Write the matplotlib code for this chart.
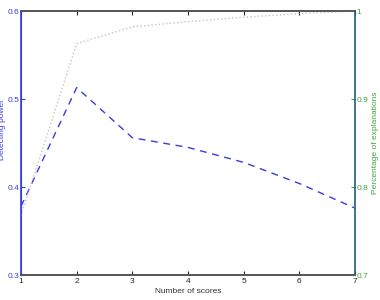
import matplotlib
matplotlib.use('Agg')
import matplotlib.pyplot as plt

plt.rcParams['font.family'] = ['Liberation Sans', 'DejaVu Sans']

# number of scores
scores = [1, 2, 3, 4, 5, 6, 7]
# detecting power (left axis)
power = [0.378, 0.513, 0.456, 0.445, 0.428, 0.404, 0.376]
# percentage of explanations (right axis)
explained = [0.768, 0.963, 0.982, 0.988, 0.993, 0.997, 1.0]

blue = '#3b3bdf'
green = '#3fa33f'

fig = plt.figure(figsize=(3.8, 3.0), dpi=100)
ax = fig.add_axes([0.0553, 0.0833, 0.8789, 0.88])
ax2 = ax.twinx()

ax.plot(scores, power, color=blue, ls=(0, (5, 4)), lw=1)
ax2.plot(scores, explained, color='#c4c4c4', ls=':', lw=1)

ax.set_xlim(1, 7)
ax.set_ylim(0.3, 0.6)
ax2.set_ylim(0.7, 1.0)
ax.set_xticks(scores)
ax.set_yticks([0.3, 0.4, 0.5, 0.6])
ax2.set_yticks([0.7, 0.8, 0.9, 1.0])
ax2.set_yticklabels(['0.7', '0.8', '0.9', '1'])

ax.tick_params(axis='x', direction='in', length=3, labelsize=6, pad=2,
               colors='#222222', top=True)
ax.tick_params(axis='y', direction='in', length=3, labelsize=6, pad=1,
               colors=blue)
ax2.tick_params(axis='y', direction='in', length=3, labelsize=6, pad=1,
                colors=green)

ax.set_xlabel('Number of scores', fontsize=6, color='#333333', labelpad=2)
ax.set_ylabel('Detecting power', fontsize=6, color=blue)
ax.yaxis.set_label_coords(-0.046, 0.55)
ax2.set_ylabel('Percentage of explanations', fontsize=6, color=green, labelpad=3)

for a in (ax, ax2):
    a.spines['top'].set_color('#555555')
    a.spines['bottom'].set_color('#555555')
    a.spines['top'].set_linewidth(1.2)
    a.spines['bottom'].set_linewidth(1.2)
ax2.spines['left'].set_color(blue)
ax2.spines['left'].set_linewidth(1.2)
ax2.spines['right'].set_color('#1f5f80')
ax2.spines['right'].set_linewidth(1.2)
ax.spines['left'].set_color(blue)
ax.spines['right'].set_visible(False)

fig.savefig('out.png', dpi=100)
